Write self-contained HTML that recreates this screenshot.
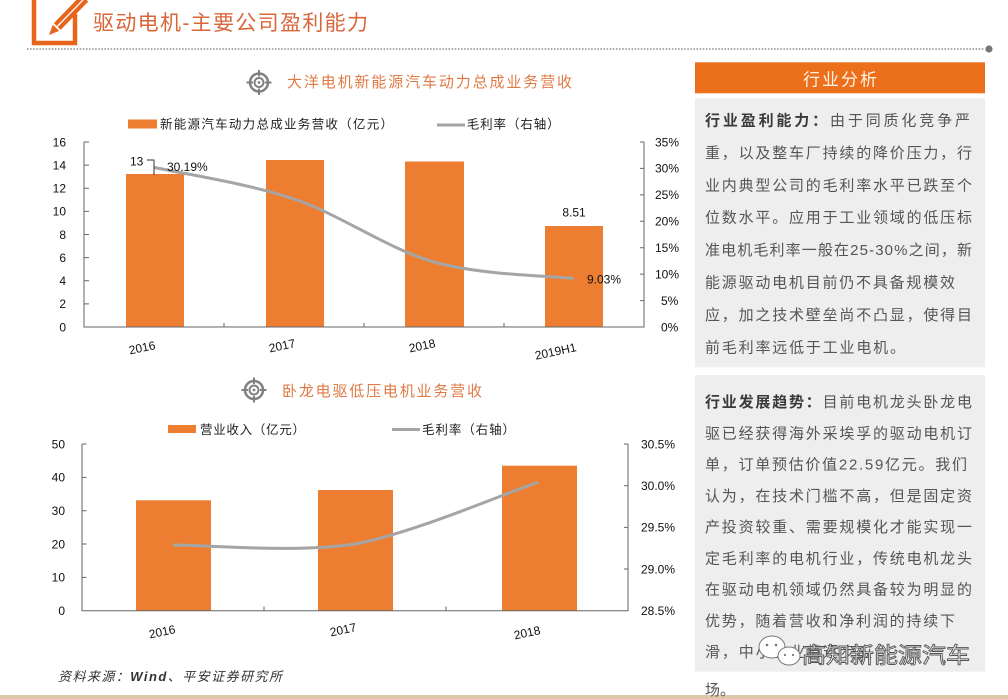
<!DOCTYPE html>
<html><head><meta charset="utf-8">
<style>
html,body{margin:0;padding:0;background:#fff;}
svg{display:block;}
.cj{font-family:"Liberation Sans","Noto Sans CJK SC",sans-serif;}
.num{font-family:"Liberation Sans",sans-serif;font-size:12px;fill:#111;}
</style></head>
<body>
<svg width="1008" height="699" viewBox="0 0 1008 699" xmlns="http://www.w3.org/2000/svg">
<rect x="0" y="0" width="1008" height="699" fill="#fff"/>

<!-- header icon -->
<path d="M34,-2 V43 H75 V14" fill="none" stroke="#e8641b" stroke-width="4.5"/>
<polygon points="49,35 52.8,24.7 59.2,30.9" fill="#e8641b"/>
<polygon points="53.8,23.2 60.7,29.9 88.2,1.6 81.3,-5.1" fill="#e8641b"/>
<line x1="57.2" y1="26.5" x2="84.7" y2="-1.8" stroke="#fff" stroke-width="1.3"/>
<!-- header title -->
<text class="cj" x="93" y="30" font-size="21" fill="#d9663a" textLength="275" lengthAdjust="spacing">驱动电机-主要公司盈利能力</text>
<!-- dotted line -->
<line x1="27" y1="49" x2="985" y2="49" stroke="#8a8a8a" stroke-width="1.5" stroke-dasharray="1.5 1.6"/>
<circle cx="989" cy="49" r="3.6" fill="#777"/>

<!-- ========== TOP CHART ========== -->
<g transform="translate(259,82.5)" stroke="#808080" fill="none">
 <circle r="9" stroke-width="2.5"/>
 <circle r="4.5" stroke-width="2"/>
 <circle r="1.4" fill="#808080" stroke="none"/>
 <path d="M0,-12.5V-6M0,6V12.5M-12.5,0H-6M6,0H12.5" stroke-width="2"/>
</g>
<text class="cj" x="287" y="87" font-size="15" fill="#e07a45" textLength="285" lengthAdjust="spacing">大洋电机新能源汽车动力总成业务营收</text>

<!-- legend -->
<rect x="128" y="119.5" width="29" height="9" fill="#ed7d31"/>
<text class="cj" x="160" y="128.5" font-size="12.5" fill="#222" textLength="233" lengthAdjust="spacing">新能源汽车动力总成业务营收（亿元）</text>
<line x1="437" y1="125" x2="465" y2="125" stroke="#a5a5a5" stroke-width="3"/>
<text class="cj" x="466.7" y="128.5" font-size="12.5" fill="#222" textLength="93" lengthAdjust="spacing">毛利率（右轴）</text>

<!-- bars -->
<rect x="126" y="174" width="58" height="153" fill="#ed7d31"/>
<rect x="266" y="160" width="58" height="167" fill="#ed7d31"/>
<rect x="405" y="161.5" width="59" height="165.5" fill="#ed7d31"/>
<rect x="545" y="226" width="58" height="101" fill="#ed7d31"/>

<!-- axes -->
<g stroke="#666" stroke-width="1" fill="none">
 <line x1="84" y1="142" x2="84" y2="327.5"/>
 <line x1="644" y1="142" x2="644" y2="327.5"/>
 <line x1="84" y1="327" x2="644" y2="327"/>
 <path d="M84,142H89M84,165.1H89M84,188.25H89M84,211.4H89M84,234.5H89M84,257.6H89M84,280.75H89M84,303.9H89"/>
 <path d="M644,142H640M644,168.4H640M644,194.9H640M644,221.3H640M644,247.7H640M644,274.1H640M644,300.6H640"/>
 <path d="M224,327V323M364,327V323M504,327V323"/>
</g>

<!-- line -->
<path d="M154,167.4 C177.3,172.7 247.3,183.2 294,199 C340.7,214.8 387.3,248.75 434,262 C480.7,275.25 550.7,275.75 574,278.5" fill="none" stroke="#a5a5a5" stroke-width="3"/>

<!-- data labels -->
<text class="num" x="130" y="165.5">13</text>
<path d="M147,160H154V175" fill="none" stroke="#333" stroke-width="1"/>
<text class="num" x="167" y="171">30.19%</text>
<text class="num" x="574" y="216.5" text-anchor="middle">8.51</text>
<text class="num" x="587" y="283.5">9.03%</text>

<!-- left ticks -->
<g class="num" text-anchor="end">
 <text x="66" y="146.3">16</text>
 <text x="66" y="169.4">14</text>
 <text x="66" y="192.5">12</text>
 <text x="66" y="215.7">10</text>
 <text x="66" y="238.8">8</text>
 <text x="66" y="261.9">6</text>
 <text x="66" y="285">4</text>
 <text x="66" y="308.2">2</text>
 <text x="66" y="331.3">0</text>
</g>
<g class="num">
 <text x="655" y="146.3">35%</text>
 <text x="655" y="172.7">30%</text>
 <text x="655" y="199.2">25%</text>
 <text x="655" y="225.6">20%</text>
 <text x="655" y="252">15%</text>
 <text x="655" y="278.4">10%</text>
 <text x="661" y="304.9">5%</text>
 <text x="661" y="331.3">0%</text>
</g>
<!-- x labels -->
<g class="num" text-anchor="end">
 <text transform="translate(156,349) rotate(-12)">2016</text>
 <text transform="translate(296,347) rotate(-12)">2017</text>
 <text transform="translate(436,347) rotate(-12)">2018</text>
 <text transform="translate(577,351) rotate(-12)">2019H1</text>
</g>

<!-- ========== BOTTOM CHART ========== -->
<g transform="translate(254,390)" stroke="#808080" fill="none">
 <circle r="9" stroke-width="2.5"/>
 <circle r="4.5" stroke-width="2"/>
 <circle r="1.4" fill="#808080" stroke="none"/>
 <path d="M0,-12.5V-6M0,6V12.5M-12.5,0H-6M6,0H12.5" stroke-width="2"/>
</g>
<text class="cj" x="282" y="396" font-size="15" fill="#e07a45" textLength="200" lengthAdjust="spacing">卧龙电驱低压电机业务营收</text>

<rect x="168" y="425" width="28" height="8" fill="#ed7d31"/>
<text class="cj" x="200" y="434" font-size="12.5" fill="#222" textLength="105" lengthAdjust="spacing">营业收入（亿元）</text>
<line x1="392" y1="429.5" x2="420" y2="429.5" stroke="#a5a5a5" stroke-width="3"/>
<text class="cj" x="422" y="434" font-size="12.5" fill="#222" textLength="93" lengthAdjust="spacing">毛利率（右轴）</text>

<rect x="136" y="500.3" width="75" height="110.4" fill="#ed7d31"/>
<rect x="318" y="490" width="75" height="120.7" fill="#ed7d31"/>
<rect x="502" y="465.7" width="75" height="145" fill="#ed7d31"/>

<g stroke="#666" stroke-width="1" fill="none">
 <line x1="82" y1="444" x2="82" y2="611"/>
 <line x1="628" y1="444" x2="628" y2="611"/>
 <line x1="82" y1="610.7" x2="628" y2="610.7"/>
 <path d="M82,444H86.5M82,477.4H86.5M82,510.7H86.5M82,544H86.5M82,577.4H86.5"/>
 <path d="M628,444H624M628,485.7H624M628,527.4H624M628,569H624"/>
 <path d="M264,610.7V606.5M446,610.7V606.5"/>
</g>

<path d="M173,545 C203.3,544.7 294.3,553.45 355,544 C415.7,532.55 506.7,492.4 538,482.3" fill="none" stroke="#a5a5a5" stroke-width="3"/>

<g class="num" text-anchor="end">
 <text x="65" y="448.3">50</text>
 <text x="65" y="481.7">40</text>
 <text x="65" y="515">30</text>
 <text x="65" y="548.3">20</text>
 <text x="65" y="581.7">10</text>
 <text x="65" y="615">0</text>
</g>
<g class="num">
 <text x="641" y="448.3">30.5%</text>
 <text x="641" y="490">30.0%</text>
 <text x="641" y="531.7">29.5%</text>
 <text x="641" y="573.3">29.0%</text>
 <text x="641" y="615">28.5%</text>
</g>
<g class="num" text-anchor="end">
 <text transform="translate(176,633) rotate(-12)">2016</text>
 <text transform="translate(357,631) rotate(-12)">2017</text>
 <text transform="translate(541,634) rotate(-12)">2018</text>
</g>

<!-- source -->
<text class="cj" x="58" y="681" font-size="13" font-style="italic" fill="#333" textLength="224" lengthAdjust="spacing">资料来源：<tspan font-weight="bold">Wind</tspan>、平安证券研究所</text>

<!-- bottom strip -->
<rect x="0" y="695" width="1008" height="4" fill="#dcc7a8"/>

<!-- ========== SIDEBAR ========== -->
<rect x="695" y="62.3" width="290" height="31" fill="#ec6f1c"/>
<text class="cj" x="841" y="85.5" font-size="17" fill="#fff3e6" text-anchor="middle" letter-spacing="2">行业分析</text>

<rect x="695" y="98.3" width="290" height="269" fill="#eeeeee"/>
<g class="cj" font-size="15" fill="#555">
 <text x="705" y="125.5" textLength="265" lengthAdjust="spacing"><tspan font-weight="bold" fill="#3a3a3a">行业盈利能力：</tspan>由于同质化竞争严</text>
 <text x="705" y="157.9" textLength="267" lengthAdjust="spacing">重，以及整车厂持续的降价压力，行</text>
 <text x="705" y="190.3" textLength="267" lengthAdjust="spacing">业内典型公司的毛利率水平已跌至个</text>
 <text x="705" y="222.7" textLength="267" lengthAdjust="spacing">位数水平。应用于工业领域的低压标</text>
 <text x="705" y="255.1" textLength="267" lengthAdjust="spacing">准电机毛利率一般在25-30%之间，新</text>
 <text x="705" y="287.5" textLength="250" lengthAdjust="spacing">能源驱动电机目前仍不具备规模效</text>
 <text x="705" y="319.9" textLength="267" lengthAdjust="spacing">应，加之技术壁垒尚不凸显，使得目</text>
 <text x="705" y="352.3" textLength="200" lengthAdjust="spacing">前毛利率远低于工业电机。</text>
</g>

<rect x="695" y="375" width="290" height="296.7" fill="#eeeeee"/>
<g class="cj" font-size="15" fill="#555">
 <text x="705" y="407.2" textLength="267" lengthAdjust="spacing"><tspan font-weight="bold" fill="#3a3a3a">行业发展趋势：</tspan>目前电机龙头卧龙电</text>
 <text x="705" y="438.5" textLength="267" lengthAdjust="spacing">驱已经获得海外采埃孚的驱动电机订</text>
 <text x="705" y="469.7" textLength="262" lengthAdjust="spacing">单，订单预估价值22.59亿元。我们</text>
 <text x="705" y="501" textLength="267" lengthAdjust="spacing">认为，在技术门槛不高，但是固定资</text>
 <text x="705" y="532.2" textLength="267" lengthAdjust="spacing">产投资较重、需要规模化才能实现一</text>
 <text x="705" y="563.5" textLength="267" lengthAdjust="spacing">定毛利率的电机行业，传统电机龙头</text>
 <text x="705" y="594.7" textLength="267" lengthAdjust="spacing">在驱动电机领域仍然具备较为明显的</text>
 <text x="705" y="626" textLength="250" lengthAdjust="spacing">优势，随着营收和净利润的持续下</text>
 <text x="705" y="657.2" textLength="167" lengthAdjust="spacing">滑，中小企业将逐步应</text>
 <text x="705" y="695">场。</text>
</g>

<!-- watermark -->
<g>
 <ellipse cx="772" cy="647" rx="13" ry="11" fill="#fff" stroke="#777" stroke-width="1"/>
 <ellipse cx="789" cy="656" rx="11" ry="9" fill="#fff" stroke="#777" stroke-width="1"/>
 <circle cx="767" cy="645" r="1.3" fill="#777"/><circle cx="776" cy="645" r="1.3" fill="#777"/>
 <circle cx="785" cy="655" r="1.1" fill="#777"/><circle cx="793" cy="655" r="1.1" fill="#777"/>
 <text class="cj" x="802" y="663" font-size="22" fill="#fff" stroke="#555" stroke-width="0.9" textLength="168" lengthAdjust="spacingAndGlyphs">高知新能源汽车</text>
</g>
</svg>
</body></html>
